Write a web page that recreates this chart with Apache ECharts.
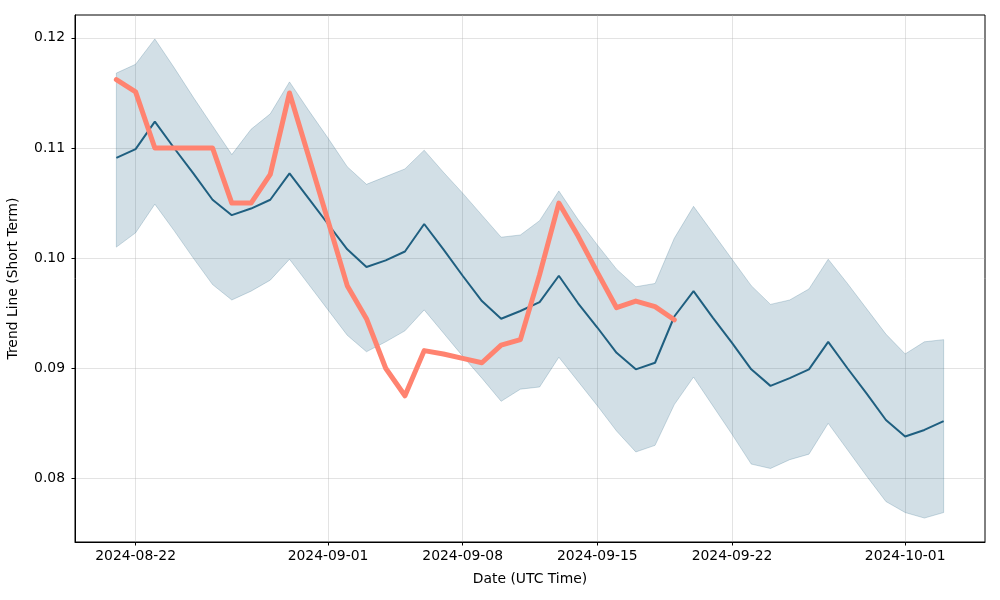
<!DOCTYPE html>
<html><head><meta charset="utf-8">
<script src="https://cdn.jsdelivr.net/npm/echarts@6/dist/echarts.min.js"></script>
<style>html,body{margin:0;padding:0;background:#fff}#c{width:1000px;height:600px}</style>
</head><body><div id="c"></div>
<script>
const dates = ['2024-08-21','2024-08-22','2024-08-23','2024-08-24','2024-08-25','2024-08-26','2024-08-27','2024-08-28','2024-08-29','2024-08-30',
'2024-08-31','2024-09-01','2024-09-02','2024-09-03','2024-09-04','2024-09-05','2024-09-06','2024-09-07','2024-09-08','2024-09-09',
'2024-09-10','2024-09-11','2024-09-12','2024-09-13','2024-09-14','2024-09-15','2024-09-16','2024-09-17','2024-09-18','2024-09-19',
'2024-09-20','2024-09-21','2024-09-22','2024-09-23','2024-09-24','2024-09-25','2024-09-26','2024-09-27','2024-09-28','2024-09-29',
'2024-09-30','2024-10-01','2024-10-02','2024-10-03'];
const trend = [0.1091,0.1099,0.1124,0.1100,0.1077,0.1053,0.1039,0.1045,0.1053,0.1077,
0.1054,0.1031,0.1008,0.0992,0.0998,0.1006,0.1031,0.1008,0.0984,0.0961,
0.0945,0.0952,0.0960,0.0984,0.0959,0.0937,0.0914,0.0899,0.0905,0.0947,
0.0970,0.0946,0.0923,0.0899,0.0884,0.0891,0.0899,0.0924,0.0900,0.0877,
0.0853,0.0838,0.0844,0.0852];
const upper = [0.1168,0.1176,0.1199,0.1173,0.1146,0.1120,0.1094,0.1117,0.1131,0.1160,
0.1134,0.1109,0.1083,0.1067,0.1074,0.1081,0.1098,0.1078,0.1059,0.1039,
0.1019,0.1021,0.1034,0.1061,0.1035,0.1012,0.0990,0.0974,0.0977,0.1018,
0.1047,0.1023,0.0999,0.0975,0.0958,0.0962,0.0972,0.0999,0.0977,0.0954,
0.0931,0.0913,0.0924,0.0926];
const lower = [0.1010,0.1023,0.1049,0.1025,0.1000,0.0976,0.0962,0.0970,0.0980,0.0999,
0.0976,0.0953,0.0930,0.0915,0.0924,0.0934,0.0953,0.0932,0.0911,0.0891,
0.0870,0.0881,0.0883,0.0910,0.0888,0.0866,0.0843,0.0824,0.0830,0.0867,
0.0892,0.0866,0.0840,0.0813,0.0809,0.0817,0.0822,0.0850,0.0826,0.0802,
0.0779,0.0769,0.0764,0.0769];
const price = [0.1162,0.1151,0.1100,0.1100,0.1100,0.1100,0.1050,0.1050,0.1076,0.1150,
0.1092,0.1034,0.0975,0.0945,0.0900,0.0875,0.0916,0.0913,0.0909,0.0905,
0.0921,0.0926,0.0985,0.1050,0.1020,0.0987,0.0955,0.0961,0.0956,0.0944];
const xTickLabels = ['2024-08-22','2024-09-01','2024-09-08','2024-09-15','2024-09-22','2024-10-01'];
const yTickLabels = ['0.08','0.09','0.10','0.11','0.12'];

const toMs = s => Date.parse(s + 'T00:00:00Z');
const xs = dates.map(toMs);
const xTicks = xTickLabels.map(toMs);
const yTicks = yTickLabels.map(Number);
const xSpan = xs[xs.length-1] - xs[0];
const xMin = xs[0] - 0.05*xSpan, xMax = xs[xs.length-1] + 0.05*xSpan;
const yLo = Math.min(...lower, ...price), yHi = Math.max(...upper, ...price);
const ySpan = yHi - yLo;
const yMin = yLo - 0.05*ySpan, yMax = yHi + 0.05*ySpan;

const font = 'DejaVu Sans';
const chart = echarts.init(document.getElementById('c'), null, {renderer:'canvas'});
chart.setOption({
  animation: false,
  backgroundColor: '#fff',
  grid: {left: 75, right: 15, top: 15, bottom: 58, outerBoundsMode: 'none', containLabel: false,
    show: true, borderColor: '#000', borderWidth: 1, backgroundColor: 'transparent'},
  xAxis: {
    type: 'value', min: xMin, max: xMax,
    name: 'Date (UTC Time)', nameLocation: 'middle', nameGap: 30,
    nameTextStyle: {fontFamily: font, fontSize: 13.9, color: '#000'},
    axisLine: {show: true, onZero: false, lineStyle: {color: '#000', width: 1}},
    axisTick: {show: true, length: 3.5, inside: false, lineStyle: {color: '#000'}, customValues: xTicks},
    axisLabel: {customValues: xTicks, margin: 7, fontFamily: font, fontSize: 13.9, color: '#000',
      formatter: v => new Date(v).toISOString().slice(0,10)},
    splitLine: {show: true, lineStyle: {color: 'rgba(176,176,176,0.35)', width: 1}}
  },
  yAxis: {
    type: 'value', min: yMin, max: yMax,
    name: 'Trend Line (Short Term)', nameLocation: 'middle', nameGap: 55,
    nameTextStyle: {fontFamily: font, fontSize: 13.9, color: '#000'},
    axisLine: {show: true, onZero: false, lineStyle: {color: '#000', width: 1}},
    axisTick: {show: true, length: 3.5, lineStyle: {color: '#000'}, customValues: yTicks},
    axisLabel: {customValues: yTicks, margin: 10, fontFamily: font, fontSize: 13.9, color: '#000',
      formatter: v => v.toFixed(2)},
    splitLine: {show: true, lineStyle: {color: 'rgba(176,176,176,0.35)', width: 1}}
  },
  series: [
    {
      type: 'custom', z: 1,
      data: xs.map((x,i) => [x, lower[i], upper[i]]),
      encode: {x: 0, y: [1,2]},
      renderItem: function(params, api) {
        if (params.dataIndex !== 0) return null;
        const pts = [];
        for (let i = 0; i < xs.length; i++) pts.push(api.coord([xs[i], upper[i]]));
        for (let i = xs.length-1; i >= 0; i--) pts.push(api.coord([xs[i], lower[i]]));
        return {type: 'polygon', shape: {points: pts},
          style: {fill: 'rgba(31,95,128,0.2)', stroke: 'rgba(31,95,128,0.22)', lineWidth: 1}};
      }
    },
    {
      type: 'line', z: 3, data: xs.map((x,i) => [x, trend[i]]),
      showSymbol: false, symbol: 'none',
      lineStyle: {color: '#1f5f80', width: 2}
    },
    {
      type: 'line', z: 4, data: price.map((p,i) => [xs[i], p]),
      showSymbol: false, symbol: 'none',
      lineStyle: {color: '#ff8370', width: 5, cap: 'round', join: 'round'}
    }
  ]
});
</script></body></html>
